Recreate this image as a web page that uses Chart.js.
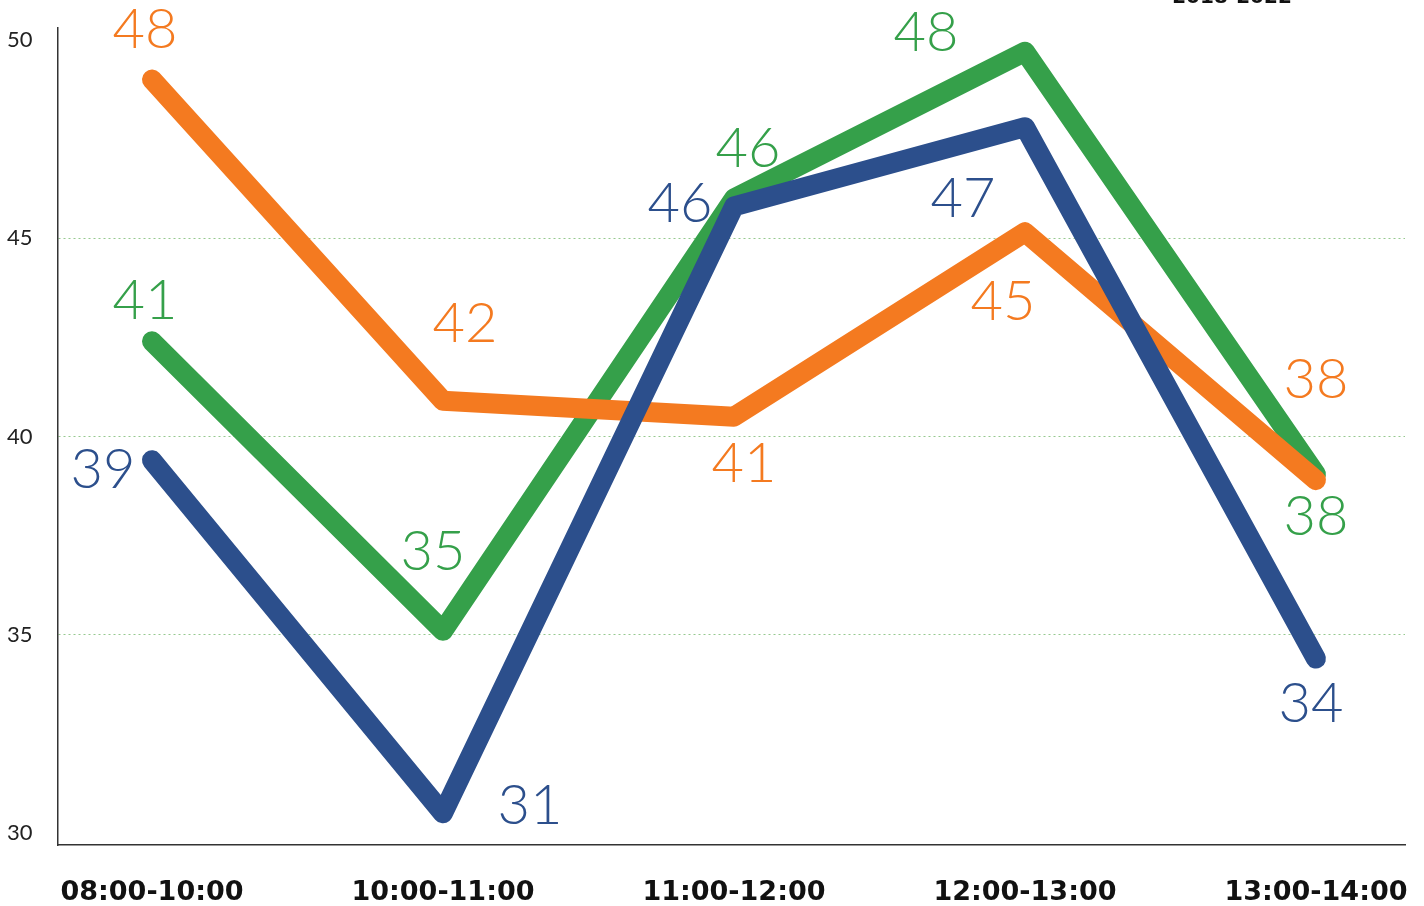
<!DOCTYPE html>
<html>
<head>
<meta charset="utf-8">
<script src="https://cdn.jsdelivr.net/npm/chart.js@4"></script>
<style>
  html, body { margin: 0; padding: 0; background: #fff; }
  #wrap { width: 1424px; height: 906px; }
</style>
</head>
<body>
<div id="wrap"><canvas id="chart"></canvas></div>
<script>
const slots = ["08:00-10:00", "10:00-11:00", "11:00-12:00", "12:00-13:00", "13:00-14:00"];
const yTicks = [30, 35, 40, 45, 50];

// plotted values (as drawn) and the numbers printed beside them
const orangeValues = [49.0, 40.9, 40.5, 45.15, 38.9];
const greenValues = [42.4, 35.1, 46.0, 49.7, 39.05];
const blueValues = [39.4, 30.5, 45.8, 47.8, 34.4];
const orangeLabels = ["48", "42", "41", "45", "38"];
const greenLabels = ["41", "35", "46", "48", "38"];
const blueLabels = ["39", "31", "46", "47", "34"];

const ORANGE = "#F47A20";
const GREEN = "#35A04A";
const BLUE = "#2C4F8C";

// label offsets from the point, in px
const orangeOffsets = [[-7, -50], [22, -77], [10, 47], [-22, 70], [0, -100]];
const greenOffsets = [[-7, -40], [-10, -79], [14, -50], [-99, -19], [0, 43]];
const blueOffsets = [[-49, 10], [87, -7], [-54, -3], [-62, 72], [-5, 45]];

const toPoints = (values) => values.map((v, i) => ({ x: i, y: v }));

const makeSet = (name, values, color, labels, offsets) => ({
  label: name,
  data: toPoints(values),
  borderColor: color,
  backgroundColor: color,
  borderWidth: 20,
  borderCapStyle: "round",
  borderJoinStyle: "round",
  pointRadius: 0,
  tension: 0,
  clip: false,
  valueLabels: labels,
  labelOffsets: offsets,
});

const valueLabelPlugin = {
  id: "valueLabels",
  afterDatasetsDraw(chart) {
    const ctx = chart.ctx;
    ctx.save();
    ctx.font = "300 56px Lato";
    ctx.textAlign = "center";
    ctx.textBaseline = "middle";
    chart.data.datasets.forEach((ds, di) => {
      const meta = chart.getDatasetMeta(di);
      meta.data.forEach((pt, i) => {
        const [dx, dy] = ds.labelOffsets[i];
        ctx.fillStyle = ds.borderColor;
        ctx.fillText(ds.valueLabels[i], pt.x + dx, pt.y + dy);
      });
    });
    ctx.fillStyle = "#111";
    ctx.font = "bold 20px 'DejaVu Sans'";
    ctx.textBaseline = "alphabetic";
    ctx.fillText("2018-2022", 1232, 3);
    ctx.restore();
  },
};

new Chart(document.getElementById("chart"), {
  type: "line",
  data: {
    datasets: [
      makeSet("blue", blueValues, BLUE, blueLabels, blueOffsets),
      makeSet("orange", orangeValues, ORANGE, orangeLabels, orangeOffsets),
      makeSet("green", greenValues, GREEN, greenLabels, greenOffsets),
    ],
  },
  options: {
    responsive: true,
    maintainAspectRatio: false,
    animation: false,
    layout: { padding: { left: 7, top: 28, right: 19, bottom: 0 } },
    plugins: { legend: { display: false }, tooltip: { enabled: false } },
    scales: {
      x: {
        type: "linear",
        min: -0.323,
        max: 4.306,
        afterBuildTicks: (scale) => {
          scale.ticks = slots.map((s, i) => ({ value: i }));
        },
        afterFit: (scale) => {
          scale.height = 61;
          scale.paddingLeft = 0;
          scale.paddingRight = 0;
        },
        grid: { display: false },
        border: { display: true, color: "#333", width: 1.5 },
        ticks: {
          padding: 24,
          maxRotation: 0,
          autoSkip: false,
          color: "#111",
          font: { family: "'DejaVu Sans'", size: 27, weight: "bold" },
          callback: (v) => slots[v],
        },
      },
      y: {
        min: 29.7,
        max: 50.3,
        afterBuildTicks: (scale) => {
          scale.ticks = yTicks.map((v) => ({ value: v }));
        },
        afterFit: (scale) => {
          scale.width = 51;
        },
        grid: {
          drawTicks: false,
          lineWidth: 1,
          color: (c) => ([35, 40, 45].includes(c.tick && c.tick.value) ? "#96c98f" : "rgba(0,0,0,0)"),
        },
        border: { display: true, color: "#333", width: 1.5, dash: [2, 3] },
        ticks: {
          crossAlign: "far",
          color: "#222",
          font: { family: "Lato", size: 22 },
        },
      },
    },
  },
  plugins: [valueLabelPlugin],
});
</script>
</body>
</html>
